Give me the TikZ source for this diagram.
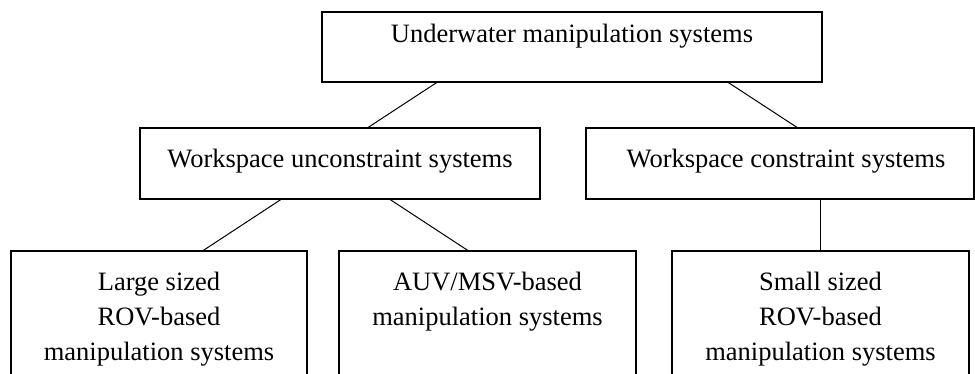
\documentclass[tikz,border=0pt]{standalone}
\usepackage{fontspec}
\setmainfont{Liberation Serif}
\usetikzlibrary{calc}
\begin{document}
\begin{tikzpicture}[x=1pt,y=-1pt,
  box/.style={draw=black,line width=1.1pt,rectangle,inner sep=0pt},
  lbl/.style={inner sep=0pt,align=center,anchor=base,font=\fontsize{26.5}{35}\selectfont},
  conn/.style={draw=black,line width=1pt}]
\clip (0,0) rectangle (975,373);
\fill[white] (0,0) rectangle (975,373);
% boxes
\node[box,minimum width=500pt,minimum height=70pt] (top) at (572,47) {};
\node[box,minimum width=400pt,minimum height=71pt] (wu) at (340,163.5) {};
\node[box,minimum width=388pt,minimum height=71pt] (wc) at (780,163.5) {};
\node[box,minimum width=296pt,minimum height=160pt] (ls) at (159,331) {};
\node[box,minimum width=297pt,minimum height=160pt] (am) at (487.5,331) {};
\node[box,minimum width=297pt,minimum height=160pt] (ss) at (820.5,331) {};
% texts
\node[lbl] (tt) at (572,42) {Underwater manipulation systems};
\node[lbl] (wut) at (340,167) {Workspace unconstraint systems};
\node[lbl] (wct) at (786,167) {Workspace constraint systems};
\node[lbl] (lst) at (159,360) {Large sized\\ROV-based\\manipulation systems};
\node[lbl] (amt) at (487.5,325) {AUV/MSV-based\\manipulation systems};
\node[lbl] (sst) at (820.5,360) {Small sized\\ROV-based\\manipulation systems};
% connectors
\draw[conn] ($(top.south west)!0.23!(top.south east)$) -- ($(wu.north west)!0.57!(wu.north east)$);
\draw[conn] ($(top.south west)!0.812!(top.south east)$) -- ($(wc.north west)!0.544!(wc.north east)$);
\draw[conn] ($(wu.south west)!0.3525!(wu.south east)$) -- ($(ls.north west)!0.649!(ls.north east)$);
\draw[conn] ($(wu.south west)!0.625!(wu.south east)$) -- ($(am.north west)!0.434!(am.north east)$);
\draw[conn] (wc.south -| ss.north) -- (ss.north);
\end{tikzpicture}
\end{document}
